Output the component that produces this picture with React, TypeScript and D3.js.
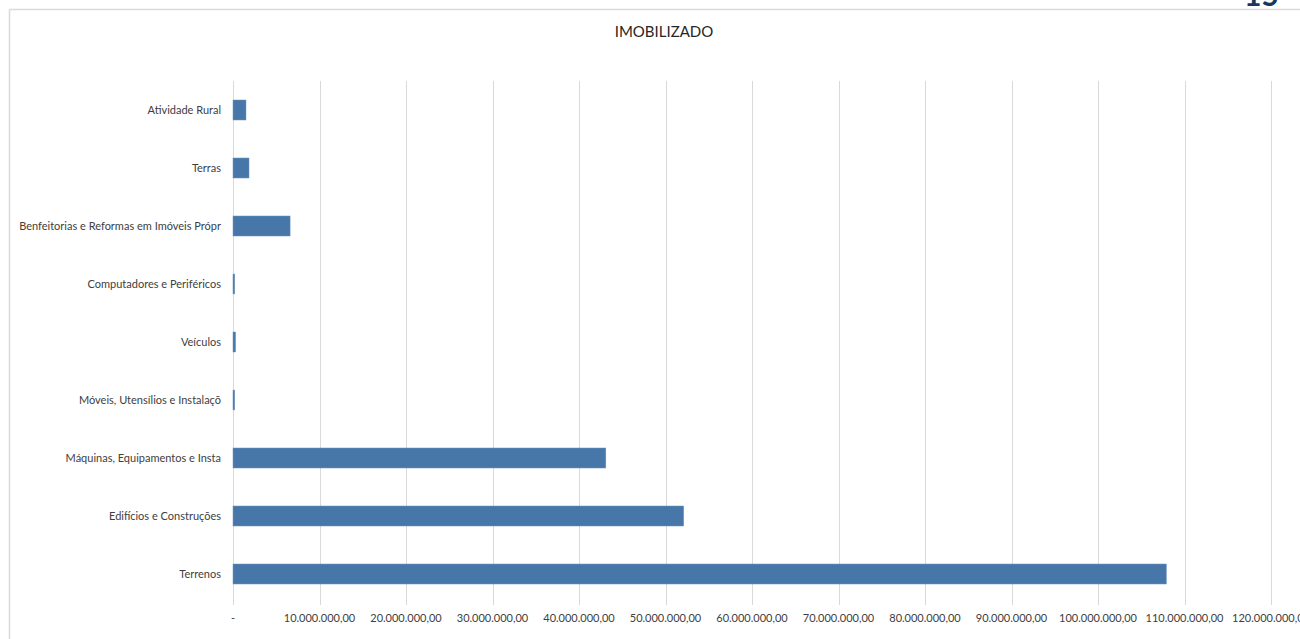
import React from "react";
import * as d3 from "d3";

const categories = [
  "Atividade Rural",
  "Terras",
  "Benfeitorias e Reformas em Imóveis Própr",
  "Computadores e Periféricos",
  "Veículos",
  "Móveis, Utensílios e Instalaçõ",
  "Máquinas, Equipamentos e Insta",
  "Edifícios e Construções",
  "Terrenos",
];
const values = [1500000, 1850000, 6600000, 200000, 300000, 200000, 43100000, 52100000, 107900000];
const tickValues = [0, 10e6, 20e6, 30e6, 40e6, 50e6, 60e6, 70e6, 80e6, 90e6, 100e6, 110e6, 120e6];
const title = "IMOBILIZADO";

const W = 1300;
const H = 639;
const margin = { left: 233, right: 29, top: 81, bottom: 36 };

function fmt(v: number): string {
  if (v === 0) return "-";
  const s = d3.format(",.2f")(v);
  return s.replace(/,/g, "#").replace(/\./g, ",").replace(/#/g, ".");
}

export default function App() {
  const x = d3.scaleLinear().domain([0, 120e6]).range([margin.left, W - margin.right]);
  const y = d3
    .scaleBand<string>()
    .domain(categories)
    .range([margin.top, H - margin.bottom])
    .paddingInner(0.655)
    .paddingOuter(0.3275);
  const font = "Lato, 'Open Sans', sans-serif";
  const plotBottom = H - margin.bottom;
  return (
    <svg width={W} height={H} style={{ position: "absolute", left: 0, top: 0 }} fontFamily={font}>
      <rect x={0} y={0} width={W} height={H} fill="#ffffff" />
      <line x1={9.5} y1={9.5} x2={W} y2={9.5} stroke="#d9d9d9" strokeWidth={1.5} />
      <line x1={9.5} y1={9.5} x2={9.5} y2={H} stroke="#d9d9d9" strokeWidth={1.5} />
      <text x={1244} y={6} fontSize={30} fontWeight={700} fill="#17375e">15</text>
      <text x={664} y={37} textAnchor="middle" fontSize={15} fill="#262626">{title}</text>
      {tickValues.map((t) => (
        <g key={t}>
          <line
            x1={Math.round(x(t)) + 0.5}
            x2={Math.round(x(t)) + 0.5}
            y1={margin.top}
            y2={plotBottom + 2}
            stroke="#d9d9d9"
            strokeWidth={1}
          />
          <text
            x={x(t)}
            y={622}
            textAnchor="middle"
            fontSize={11}
            fill="#404040"
          >
            {fmt(t)}
          </text>
        </g>
      ))}
      {categories.map((c, i) => (
        <g key={c}>
          <rect
            x={x(0)}
            y={y(c)!}
            width={x(values[i]) - x(0)}
            height={y.bandwidth()}
            fill="#4677a8"
            stroke="#6f95bd"
            strokeWidth={0.5}
          />
          <text
            x={221}
            y={y(c)! + y.bandwidth() / 2}
            dy="0.35em"
            textAnchor="end"
            fontSize={11}
            fill="#404040"
          >
            {c}
          </text>
        </g>
      ))}
    </svg>
  );
}
